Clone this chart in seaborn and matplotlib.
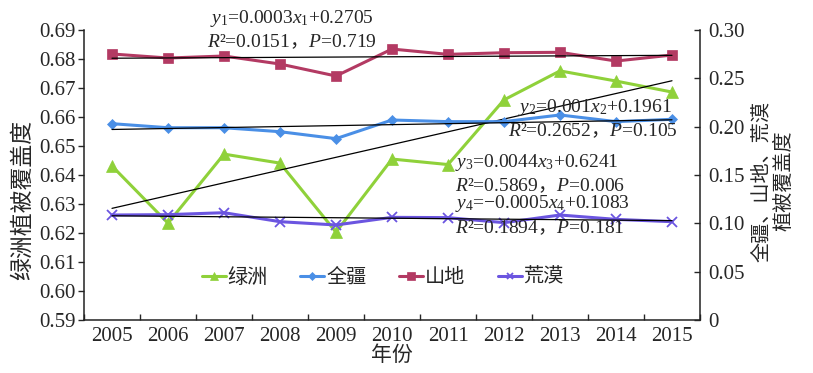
import numpy as np
import pandas as pd
import matplotlib
matplotlib.use("Agg")
import matplotlib.pyplot as plt
from matplotlib.ticker import FixedLocator, FuncFormatter, NullFormatter
import seaborn as sns

# ---- data ----
years = ["2005", "2006", "2007", "2008", "2009", "2010", "2011", "2012", "2013", "2014", "2015"]
oasis = [0.6431, 0.6234, 0.6472, 0.6441, 0.6203, 0.6455, 0.6436, 0.6659, 0.6759, 0.6724, 0.6686]   # 绿洲 (left)
xinjiang = [0.2031, 0.1989, 0.1989, 0.1948, 0.1876, 0.2069, 0.2052, 0.2052, 0.2121, 0.2052, 0.2076]  # 全疆
mountain = [0.2752, 0.2710, 0.2731, 0.2648, 0.2524, 0.2803, 0.2748, 0.2765, 0.2769, 0.2679, 0.2741]  # 山地
desert = [0.1086, 0.1090, 0.1110, 0.1017, 0.0983, 0.1062, 0.1059, 0.1007, 0.1086, 0.1041, 0.1017]    # 荒漠
series_names = ["绿洲", "全疆", "山地", "荒漠"]
# regression coefficients (slope, intercept) as printed
slopes = {"山地": 0.0003, "全疆": 0.001, "绿洲": 0.0044, "荒漠": -0.0005}
intercepts = {"山地": 0.2705, "全疆": 0.1961, "绿洲": 0.6241, "荒漠": 0.1083}
left_ticks = [0.59, 0.60, 0.61, 0.62, 0.63, 0.64, 0.65, 0.66, 0.67, 0.68, 0.69]
right_ticks = [0, 0.05, 0.10, 0.15, 0.20, 0.25, 0.30]

sns.set_style("ticks")
plt.rcParams["font.family"] = ["Liberation Serif", "Noto Sans CJK SC", "DejaVu Sans"]
plt.rcParams["mathtext.fontset"] = "custom"
plt.rcParams["mathtext.rm"] = "Liberation Serif"
plt.rcParams["mathtext.it"] = "Liberation Serif:italic"
plt.rcParams["mathtext.sf"] = "Noto Sans CJK SC"
plt.rcParams["axes.unicode_minus"] = True

colors = {"绿洲": "#8fd13a", "全疆": "#4a8fe6", "山地": "#b33a63", "荒漠": "#6b55e0"}
markers = {"绿洲": "^", "全疆": "D", "山地": "s", "荒漠": "x"}
msizes = {"绿洲": 8, "全疆": 5.5, "山地": 7.5, "荒漠": 6.5}

fig = plt.figure(figsize=(8.13, 3.73), dpi=100)
ax = fig.add_axes([84 / 813, 53 / 373, 616 / 813, 290 / 373])
ax2 = ax.twinx()

pos = np.arange(len(years))
df = pd.DataFrame({"pos": pos, "绿洲": oasis, "全疆": xinjiang, "山地": mountain, "荒漠": desert})

cjk = ["Noto Sans CJK SC", "DejaVu Sans"]

def draw(axis, name):
    sns.lineplot(data=df, x="pos", y=name, ax=axis, color=colors[name], marker=markers[name],
                 markersize=msizes[name], markeredgecolor=colors[name],
                 markeredgewidth=1.3 if name == "荒漠" else 0.5,
                 linewidth=2.2, label=name, legend=False)
    trend = [slopes[name] * (i + 1) + intercepts[name] for i in pos]
    sns.lineplot(x=pos, y=trend, ax=axis, color="black", linewidth=0.9, legend=False)

draw(ax, "绿洲")
for n in ["全疆", "山地", "荒漠"]:
    draw(ax2, n)

ax.set_xlim(-0.5, len(years) - 0.5)
ax.set_ylim(0.59, 0.69)
ax2.set_ylim(0, 0.30)

# categorical x axis: ticks at boundaries, labels at centres
ax.xaxis.set_major_locator(FixedLocator(np.arange(-0.5, len(years), 1.0)))
ax.xaxis.set_major_formatter(NullFormatter())
ax.set_xticks(pos, labels=years, minor=True)
ax.tick_params(axis="x", which="major", direction="in", length=4, width=1)
ax.tick_params(axis="x", which="minor", length=0, labelsize=15, pad=5)

ax.set_yticks(left_ticks)
ax.yaxis.set_major_formatter(FuncFormatter(lambda v, p: f"{v:.2f}"))
ax.tick_params(axis="y", direction="out", length=4, width=1, labelsize=15, pad=2)
ax2.set_yticks(right_ticks)
ax2.yaxis.set_major_formatter(FuncFormatter(lambda v, p: "0" if abs(v) < 1e-9 else f"{v:.2f}"))
ax2.tick_params(axis="y", direction="in", length=4, width=1, labelsize=15, pad=6)

for a in (ax, ax2):
    a.spines["top"].set_visible(False)
    for s in ("left", "right", "bottom"):
        a.spines[s].set_color("#222222")
        a.spines[s].set_linewidth(1.1)
ax.spines["right"].set_visible(False)
ax2.spines["left"].set_visible(False)
ax2.spines["bottom"].set_visible(False)
ax2.set_xlabel("")

ax.set_ylabel("绿洲植被覆盖度", fontsize=16.5, family=cjk)
ax.yaxis.set_label_coords(-0.100, 0.414)
ax.yaxis.label.set_verticalalignment("center")
ax.set_xlabel("年份", fontsize=15, family=cjk)
ax.xaxis.set_label_coords(0.5, -0.122)
ax.xaxis.label.set_verticalalignment("center")
ax2.set_ylabel("全疆、山地、荒漠\n植被覆盖度", fontsize=14.5, family=cjk, linespacing=1.05)
ax2.yaxis.label.set_verticalalignment("center")
ax2.yaxis.label.set_horizontalalignment("center")
ax2.yaxis.set_label_coords(1.118, 0.479)

# equations
tf = ["Liberation Serif", "Noto Sans CJK SC"]
fs = 14
C = r"$\mathsf{，}$"
ax.text(0.338, 1.041, r"$y_1$=0.0003$x_1$+0.2705", transform=ax.transAxes, ha="center", va="center", fontsize=fs, family=tf)
ax.text(0.338, 0.959, r"$R$²=0.0151" + C + r"$P$=0.719", transform=ax.transAxes, ha="center", va="center", fontsize=fs, family=tf)
ax2.text(0.955, 0.734, r"$y_2$=0.001$x_2$+0.1961", transform=ax.transAxes, ha="right", va="center", fontsize=fs, family=tf)
ax2.text(0.964, 0.652, r"$R$²=0.2652" + C + r"$P$=0.105", transform=ax.transAxes, ha="right", va="center", fontsize=fs, family=tf)
ax2.text(0.602, 0.543, r"$y_3$=0.0044$x_3$+0.6241", transform=ax.transAxes, ha="left", va="center", fontsize=fs, family=tf)
ax2.text(0.602, 0.464, r"$R$²=0.5869" + C + r"$P$=0.006", transform=ax.transAxes, ha="left", va="center", fontsize=fs, family=tf)
ax2.text(0.602, 0.401, r"$y_4$=−0.0005$x_4$+0.1083", transform=ax.transAxes, ha="left", va="center", fontsize=fs, family=tf)
ax2.text(0.602, 0.317, r"$R$²=0.1894" + C + r"$P$=0.181", transform=ax.transAxes, ha="left", va="center", fontsize=fs, family=tf)

# legend
h1, l1 = ax.get_legend_handles_labels()
h2, l2 = ax2.get_legend_handles_labels()
handles = h1 + h2
labels = l1 + l2
leg = ax2.legend(handles, labels, loc="center", bbox_to_anchor=(0.485, 0.148), ncol=4, frameon=False,
                 prop={"family": cjk, "size": 14.5}, handlelength=1.2, handletextpad=0.1,
                 columnspacing=1.6, markerscale=0.7)

fig.savefig("out.png", dpi=100)
